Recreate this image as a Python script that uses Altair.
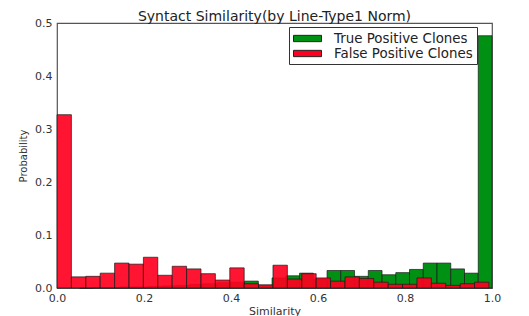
import altair as alt
import pandas as pd
import numpy as np

# Histogram densities
red_values = [0.327, 0.021, 0.022, 0.028, 0.047, 0.045, 0.058, 0.024, 0.041, 0.036,
              0.027, 0.015, 0.038, 0.008, 0.006, 0.043, 0.017, 0.027, 0.019, 0.013,
              0.021, 0.018, 0.011, 0.007, 0.007, 0.019, 0.009, 0.005, 0.008, 0.011]
green_values = [0.000, 0.001, 0.001, 0.002, 0.002, 0.003, 0.004, 0.005, 0.007, 0.008,
                0.010, 0.011, 0.013, 0.005, 0.019, 0.023, 0.028, 0.017, 0.033, 0.033,
                0.022, 0.033, 0.025, 0.029, 0.035, 0.047, 0.047, 0.036, 0.028, 0.476]
red_range = [0.0, 0.993]
green_range = [0.052, 1.0]
series_names = ["True Positive Clones", "False Positive Clones"]
series_colors = ["#009014", "#ff0020"]
x_ticks = [0.0, 0.2, 0.4, 0.6, 0.8, 1.0]
y_ticks = [0.0, 0.1, 0.2, 0.3, 0.4, 0.5]


def bins(values, rng, name):
    edges = np.linspace(rng[0], rng[1], len(values) + 1)
    return pd.DataFrame({"start": edges[:-1], "end": edges[1:],
                         "prob": values, "series": name})


df = pd.concat([bins(green_values, green_range, series_names[0]),
                bins(red_values, red_range, series_names[1])], ignore_index=True)

FONT = "DejaVu Sans"

color = alt.Color(
    "series:N",
    scale=alt.Scale(domain=series_names, range=series_colors),
    legend=alt.Legend(
        title=None, orient="none", legendX=232, legendY=4,
        symbolType="M-2,-0.45H2V0.45H-2Z", symbolSize=196,
        symbolStrokeColor="#222", symbolStrokeWidth=1, symbolOpacity=1,
        symbolOffset=7, labelOffset=19,
        labelFont=FONT, labelFontSize=13.4, labelColor="#222",
        strokeColor="#333", fillColor="white", padding=4, rowPadding=1,
        cornerRadius=0,
    ),
)

x = alt.X("start:Q", title="Similarity",
          scale=alt.Scale(domain=[0, 1], nice=False, zero=False),
          axis=alt.Axis(values=x_ticks, format=".1f", grid=False, ticks=False,
                        domain=False, labelFlush=False, labelPadding=4,
                        titlePadding=2))
y = alt.Y("prob:Q", title="Probability",
          scale=alt.Scale(domain=[0, 0.5], nice=False),
          axis=alt.Axis(values=y_ticks, format=".1f", grid=False, ticks=False,
                        domain=False, labelFlush=False, labelPadding=5,
                        titlePadding=6, titleFontSize=10))

green = alt.Chart(df).transform_filter(
    alt.datum.series == series_names[0]
).mark_rect(stroke="#1a1a1a", strokeWidth=0.7).encode(
    x=x, x2="end:Q", y=y, y2=alt.datum(0), color=color)

red = alt.Chart(df).transform_filter(
    alt.datum.series == series_names[1]
).mark_rect(stroke="#1a1a1a", strokeWidth=0.7, fillOpacity=0.92).encode(
    x=x, x2="end:Q", y=y, y2=alt.datum(0), color=color)

chart = alt.layer(green, red).properties(
    width=435, height=265,
    autosize="none",
    padding={"left": 49, "top": 15, "right": 29, "bottom": 28},
    title=alt.Title("Syntact Similarity(by Line-Type1 Norm)", font=FONT,
                    fontSize=14, fontWeight="normal", color="#222", offset=4,
                    dy=11, frame="group"),
).configure_view(
    stroke="#555", strokeWidth=1.2
).configure_axis(
    labelFont=FONT, labelFontSize=11, labelColor="#333",
    titleFont=FONT, titleFontSize=11, titleFontWeight="normal", titleColor="#333",
)

chart.save("out.html", embed_options={"renderer": "svg", "actions": False})
